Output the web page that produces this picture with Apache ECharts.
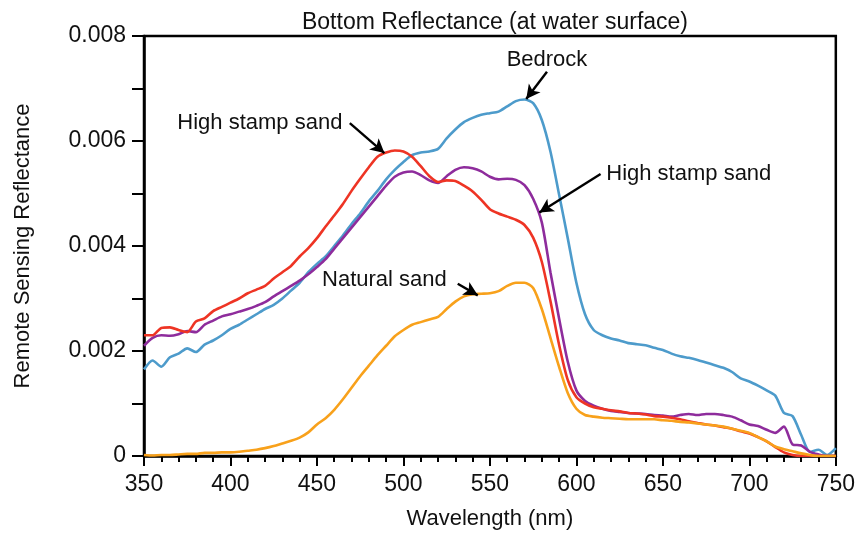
<!DOCTYPE html>
<html>
<head>
<meta charset="utf-8">
<script src="https://cdn.jsdelivr.net/npm/echarts@6/dist/echarts.min.js"></script>
<style>
  html, body { margin: 0; padding: 0; background: #fff; }
  #main { width: 858px; height: 535px; }
</style>
</head>
<body>
<div id="main"></div>
<script>
// wavelengths (nm), 5 nm steps
var wavelengths = [350, 355, 360, 365, 370, 375, 380, 385, 390, 395,
  400, 405, 410, 415, 420, 425, 430, 435, 440, 445,
  450, 455, 460, 465, 470, 475, 480, 485, 490, 495,
  500, 505, 510, 515, 520, 525, 530, 535, 540, 545,
  550, 555, 560, 565, 570, 575, 580, 585, 590, 595,
  600, 605, 610, 615, 620, 625, 630, 635, 640, 645,
  650, 655, 660, 665, 670, 675, 680, 685, 690, 695,
  700, 705, 710, 715, 720, 725, 730, 735, 740, 745, 750];

// values, in units of 0.001
var bedrock = [1.65, 1.82, 1.70, 1.88, 1.95, 2.05, 1.98, 2.12, 2.20, 2.30,
  2.42, 2.50, 2.60, 2.70, 2.80, 2.88, 3.00, 3.15, 3.30, 3.50,
  3.66, 3.80, 4.00, 4.20, 4.42, 4.62, 4.85, 5.05, 5.27, 5.45,
  5.60, 5.73, 5.78, 5.80, 5.85, 6.05, 6.22, 6.36, 6.44, 6.50,
  6.53, 6.56, 6.66, 6.76, 6.79, 6.72, 6.40, 5.80, 4.98, 4.15,
  3.30, 2.70, 2.40, 2.30, 2.24, 2.20, 2.15, 2.13, 2.11, 2.06,
  2.02, 1.95, 1.90, 1.87, 1.83, 1.78, 1.73, 1.68, 1.60, 1.48,
  1.42, 1.34, 1.25, 1.15, 0.82, 0.76, 0.40, 0.08, 0.12, 0.02, 0.15];

var stampSandA = [2.30, 2.30, 2.44, 2.45, 2.40, 2.36, 2.56, 2.62, 2.76, 2.84,
  2.92, 3.00, 3.10, 3.17, 3.24, 3.38, 3.50, 3.62, 3.80, 3.96,
  4.15, 4.37, 4.58, 4.80, 5.05, 5.28, 5.50, 5.70, 5.78, 5.82,
  5.80, 5.70, 5.52, 5.33, 5.22, 5.25, 5.24, 5.15, 5.04, 4.88,
  4.70, 4.62, 4.56, 4.50, 4.40, 4.16, 3.70, 2.95, 2.12, 1.45,
  1.12, 1.00, 0.93, 0.90, 0.87, 0.85, 0.82, 0.81, 0.79, 0.76,
  0.75, 0.73, 0.70, 0.66, 0.63, 0.60, 0.58, 0.55, 0.52, 0.47,
  0.43, 0.36, 0.28, 0.17, 0.07, 0.02, 0.00, 0.00, 0.00, 0.00, 0.00];

var stampSandB = [2.10, 2.25, 2.30, 2.29, 2.32, 2.38, 2.36, 2.50, 2.58, 2.66,
  2.70, 2.75, 2.80, 2.86, 2.93, 3.04, 3.14, 3.24, 3.34, 3.46,
  3.60, 3.75, 3.95, 4.15, 4.35, 4.55, 4.75, 4.95, 5.15, 5.32,
  5.40, 5.42, 5.35, 5.25, 5.20, 5.33, 5.45, 5.50, 5.48, 5.42,
  5.32, 5.27, 5.28, 5.26, 5.16, 4.90, 4.45, 3.50, 2.62, 1.80,
  1.25, 1.05, 0.96, 0.90, 0.86, 0.84, 0.82, 0.81, 0.80, 0.78,
  0.77, 0.75, 0.78, 0.80, 0.78, 0.80, 0.80, 0.78, 0.75, 0.68,
  0.60, 0.57, 0.50, 0.44, 0.56, 0.22, 0.20, 0.08, 0.03, 0.00, 0.00];

var naturalSand = [0.02, 0.01, 0.02, 0.02, 0.03, 0.04, 0.04, 0.06, 0.06, 0.07,
  0.07, 0.08, 0.10, 0.12, 0.15, 0.19, 0.24, 0.29, 0.35, 0.45,
  0.60, 0.72, 0.88, 1.08, 1.30, 1.52, 1.72, 1.92, 2.10, 2.28,
  2.40, 2.50, 2.55, 2.60, 2.65, 2.80, 2.94, 3.04, 3.08, 3.09,
  3.10, 3.14, 3.24, 3.30, 3.30, 3.20, 2.80, 2.25, 1.70, 1.20,
  0.90, 0.78, 0.75, 0.73, 0.72, 0.71, 0.70, 0.70, 0.70, 0.70,
  0.68, 0.67, 0.65, 0.64, 0.62, 0.60, 0.58, 0.56, 0.52, 0.48,
  0.44, 0.36, 0.28, 0.18, 0.13, 0.09, 0.05, 0.02, 0.00, 0.00, 0.00];

// annotations: [label, textX, textY, arrowFromX, arrowFromY, arrowToX, arrowToY] (data units, y in 0.001)
var notes = [
  ['High stamp sand', 417, 6.35, 469, 6.34, 489, 5.77],
  ['Bedrock', 583, 7.55, 583, 7.32, 571, 6.80],
  ['High stamp sand', 665, 5.37, 614, 5.37, 578.6, 4.64],
  ['Natural sand', 489, 3.36, 531.4, 3.28, 543, 3.06]
];

var font = 'Liberation Sans';

function pairs(arr) {
  return wavelengths.map(function (w, i) { return [w, arr[i] / 1000]; });
}

function line(name, arr, color) {
  return {
    name: name,
    type: 'line',
    data: pairs(arr),
    showSymbol: false,
    smooth: 0.25,
    lineStyle: { color: color, width: 2.6 },
    z: 3
  };
}

var series = [
  line('Bedrock', bedrock, '#4d9bcb'),
  line('High stamp sand B', stampSandB, '#8e2c9c'),
  line('High stamp sand A', stampSandA, '#ee3424'),
  line('Natural sand', naturalSand, '#f8a11b')
];

// arrows and labels
series.push({
  type: 'line',
  data: [],
  silent: true,
  markLine: {
    silent: true,
    symbol: ['none', 'arrow'],
    symbolSize: [11, 14],
    label: { show: false },
    lineStyle: { color: '#000', width: 2.4, type: 'solid' },
    data: notes.map(function (n) {
      return [{ coord: [n[3], n[4] / 1000] }, { coord: [n[5], n[6] / 1000] }];
    })
  },
  markPoint: {
    silent: true,
    symbol: 'circle',
    symbolSize: 0,
    label: {
      show: true,
      color: '#111',
      fontFamily: font,
      fontSize: 22,
      formatter: function (p) { return p.name; }
    },
    data: notes.map(function (n) {
      return { name: n[0], coord: [n[1], n[2] / 1000] };
    })
  }
});

var chart = echarts.init(document.getElementById('main'), null, { renderer: 'canvas' });
chart.setOption({
  animation: false,
  backgroundColor: '#fff',
  title: {
    text: 'Bottom Reflectance (at water surface)',
    left: 490, top: 6,
    textAlign: 'center',
    textStyle: { fontFamily: font, fontSize: 23, fontWeight: 'normal', color: '#111' }
  },
  grid: {
    left: 144, right: 21, top: 36, bottom: 77,
    show: true, borderColor: '#000', borderWidth: 2.5, backgroundColor: 'transparent'
  },
  xAxis: {
    type: 'value',
    min: 350, max: 750, interval: 50,
    name: 'Wavelength (nm)',
    nameLocation: 'middle',
    nameGap: 52,
    nameTextStyle: { fontFamily: font, fontSize: 22, color: '#111' },
    axisLine: { lineStyle: { color: '#000', width: 2.5 } },
    axisTick: { length: 10, lineStyle: { color: '#000', width: 2 } },
    minorTick: { show: true, splitNumber: 5, length: 6, lineStyle: { color: '#000', width: 2 } },
    splitLine: { show: false },
    axisLabel: { fontFamily: font, fontSize: 23, color: '#111', margin: 17 }
  },
  yAxis: {
    type: 'value',
    min: 0, max: 0.008, interval: 0.002,
    name: 'Remote Sensing Reflectance',
    nameLocation: 'middle',
    nameGap: 110,
    nameTextStyle: { fontFamily: font, fontSize: 22, color: '#111' },
    axisLine: { show: true, lineStyle: { color: '#000', width: 2.5 } },
    axisTick: { show: true, length: 12, lineStyle: { color: '#000', width: 2 } },
    minorTick: { show: true, splitNumber: 2, length: 12, lineStyle: { color: '#000', width: 2 } },
    splitLine: { show: false },
    axisLabel: {
      fontFamily: font, fontSize: 23, color: '#111', margin: 18,
      formatter: function (v) { return v === 0 ? '0' : v.toFixed(3); }
    }
  },
  series: series
});
</script>
</body>
</html>
